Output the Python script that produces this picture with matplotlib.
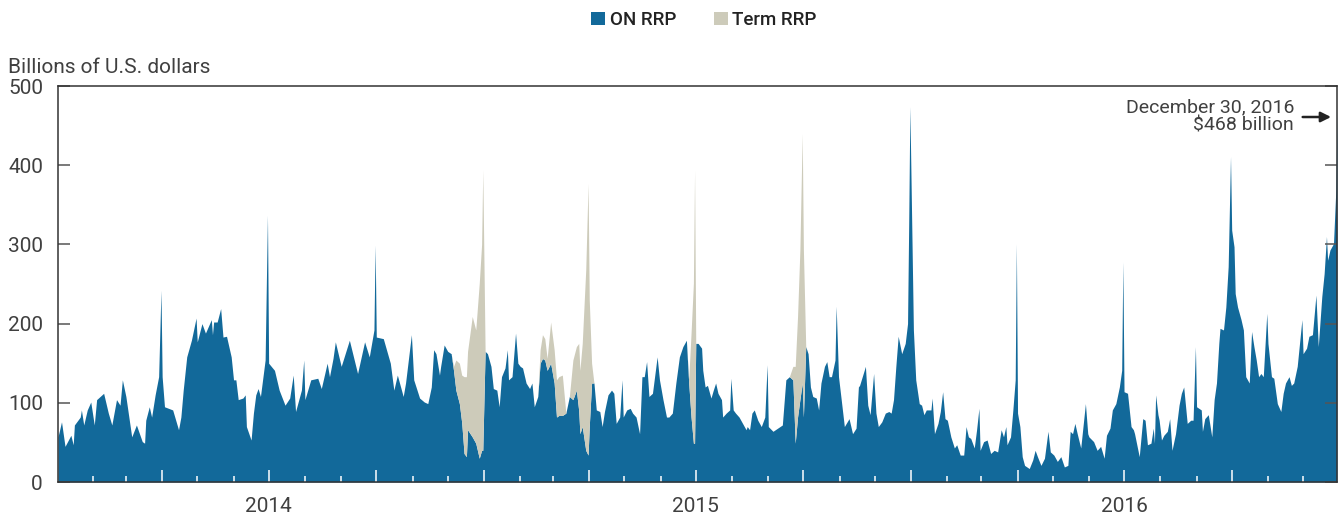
import matplotlib
matplotlib.use("Agg")
import matplotlib.pyplot as plt
import matplotlib.dates as mdates
from matplotlib.patches import Patch
import pandas as pd
import numpy as np

plt.rcParams['font.family'] = ['Roboto', 'DejaVu Sans']

# Daily readings taken off the chart (billions of U.S. dollars)
dates = [
    "2014-01-02", "2014-01-05", "2014-01-08", "2014-01-13", "2014-01-15", "2014-01-16", "2014-01-21", "2014-01-22", "2014-01-24", "2014-01-27", "2014-01-30",
    "2014-02-02", "2014-02-04", "2014-02-10", "2014-02-14", "2014-02-17", "2014-02-21", "2014-02-24", "2014-02-26",
    "2014-03-01", "2014-03-06", "2014-03-10", "2014-03-15", "2014-03-17", "2014-03-18", "2014-03-21", "2014-03-23", "2014-03-26", "2014-03-29", "2014-03-31",
    "2014-04-01", "2014-04-03", "2014-04-10", "2014-04-15", "2014-04-17", "2014-04-19", "2014-04-22", "2014-04-26", "2014-04-30",
    "2014-05-01", "2014-05-05", "2014-05-08", "2014-05-13", "2014-05-14", "2014-05-15", "2014-05-18", "2014-05-21", "2014-05-23", "2014-05-26", "2014-05-30",
    "2014-06-01", "2014-06-03", "2014-06-05", "2014-06-09", "2014-06-11", "2014-06-12", "2014-06-16", "2014-06-18", "2014-06-20", "2014-06-22", "2014-06-24", "2014-06-28", "2014-06-30",
    "2014-07-01", "2014-07-06", "2014-07-10", "2014-07-15", "2014-07-19", "2014-07-22", "2014-07-24", "2014-07-29", "2014-07-31",
    "2014-08-01", "2014-08-06", "2014-08-12", "2014-08-15", "2014-08-20", "2014-08-22", "2014-08-25", "2014-08-27",
    "2014-09-01", "2014-09-08", "2014-09-15", "2014-09-21", "2014-09-25", "2014-09-29", "2014-09-30",
    "2014-10-01", "2014-10-07", "2014-10-13", "2014-10-16", "2014-10-19", "2014-10-24", "2014-10-26", "2014-10-31",
    "2014-11-02", "2014-11-07", "2014-11-11", "2014-11-14", "2014-11-17", "2014-11-19", "2014-11-21", "2014-11-24", "2014-11-25", "2014-11-28",
    "2014-12-01", "2014-12-04", "2014-12-06", "2014-12-08", "2014-12-11", "2014-12-13", "2014-12-15", "2014-12-17", "2014-12-18", "2014-12-22", "2014-12-25", "2014-12-28", "2014-12-30", "2014-12-31",
    "2015-01-02", "2015-01-04", "2015-01-07", "2015-01-09", "2015-01-12", "2015-01-14", "2015-01-16", "2015-01-19", "2015-01-21", "2015-01-22", "2015-01-25", "2015-01-28", "2015-01-30",
    "2015-02-01", "2015-02-03", "2015-02-06", "2015-02-09", "2015-02-11", "2015-02-13", "2015-02-16", "2015-02-18", "2015-02-20", "2015-02-22", "2015-02-24", "2015-02-27",
    "2015-03-02", "2015-03-04", "2015-03-06", "2015-03-09", "2015-03-12", "2015-03-15", "2015-03-18", "2015-03-21", "2015-03-23", "2015-03-24", "2015-03-26", "2015-03-29", "2015-03-31",
    "2015-04-01", "2015-04-03", "2015-04-05", "2015-04-07", "2015-04-10", "2015-04-12", "2015-04-14", "2015-04-17", "2015-04-20", "2015-04-22", "2015-04-24", "2015-04-27", "2015-04-29", "2015-04-30",
    "2015-05-03", "2015-05-06", "2015-05-08", "2015-05-11", "2015-05-14", "2015-05-16", "2015-05-18", "2015-05-20", "2015-05-22", "2015-05-25", "2015-05-29", "2015-05-31",
    "2015-06-03", "2015-06-06", "2015-06-08", "2015-06-11", "2015-06-14", "2015-06-17", "2015-06-20", "2015-06-23", "2015-06-25", "2015-06-27", "2015-06-29", "2015-06-30",
    "2015-07-01", "2015-07-03", "2015-07-06", "2015-07-07", "2015-07-09", "2015-07-11", "2015-07-14", "2015-07-16", "2015-07-18", "2015-07-20", "2015-07-23", "2015-07-24", "2015-07-27", "2015-07-30", "2015-07-31",
    "2015-08-02", "2015-08-04", "2015-08-07", "2015-08-10", "2015-08-13", "2015-08-14", "2015-08-16", "2015-08-18", "2015-08-20", "2015-08-23", "2015-08-26", "2015-08-29", "2015-08-31",
    "2015-09-01", "2015-09-05", "2015-09-09", "2015-09-13", "2015-09-16", "2015-09-19", "2015-09-22", "2015-09-24", "2015-09-26", "2015-09-28", "2015-09-30",
    "2015-10-01", "2015-10-03", "2015-10-05", "2015-10-07", "2015-10-09", "2015-10-12", "2015-10-14", "2015-10-16", "2015-10-19", "2015-10-21", "2015-10-23", "2015-10-25", "2015-10-28", "2015-10-29", "2015-10-31",
    "2015-11-02", "2015-11-05", "2015-11-09", "2015-11-12", "2015-11-15", "2015-11-17", "2015-11-18", "2015-11-23", "2015-11-25", "2015-11-27", "2015-11-30",
    "2015-12-02", "2015-12-04", "2015-12-07", "2015-12-10", "2015-12-13", "2015-12-15", "2015-12-17", "2015-12-19", "2015-12-21", "2015-12-24", "2015-12-27", "2015-12-29", "2015-12-30", "2015-12-31",
    "2016-01-03", "2016-01-05", "2016-01-08", "2016-01-10", "2016-01-12", "2016-01-14", "2016-01-18", "2016-01-19", "2016-01-21", "2016-01-24", "2016-01-26", "2016-01-28", "2016-01-30",
    "2016-02-01", "2016-02-04", "2016-02-07", "2016-02-09", "2016-02-12", "2016-02-15", "2016-02-17", "2016-02-19", "2016-02-21", "2016-02-24", "2016-02-26", "2016-02-28", "2016-02-29",
    "2016-03-03", "2016-03-06", "2016-03-09", "2016-03-12", "2016-03-15", "2016-03-18", "2016-03-20", "2016-03-22", "2016-03-23", "2016-03-26", "2016-03-28", "2016-03-30", "2016-03-31",
    "2016-04-01", "2016-04-03", "2016-04-05", "2016-04-07", "2016-04-11", "2016-04-14", "2016-04-16", "2016-04-18", "2016-04-21", "2016-04-24", "2016-04-27", "2016-04-29",
    "2016-05-02", "2016-05-05", "2016-05-08", "2016-05-11", "2016-05-14", "2016-05-16", "2016-05-18", "2016-05-20", "2016-05-22", "2016-05-25", "2016-05-29", "2016-05-31",
    "2016-06-01", "2016-06-05", "2016-06-08", "2016-06-11", "2016-06-14", "2016-06-16", "2016-06-19", "2016-06-21", "2016-06-24", "2016-06-27", "2016-06-29", "2016-06-30",
    "2016-07-01", "2016-07-04", "2016-07-07", "2016-07-09", "2016-07-10", "2016-07-14", "2016-07-17", "2016-07-19", "2016-07-21", "2016-07-24", "2016-07-26", "2016-07-27", "2016-07-28", "2016-07-30", "2016-07-31",
    "2016-08-02", "2016-08-04", "2016-08-07", "2016-08-09", "2016-08-11", "2016-08-14", "2016-08-17", "2016-08-19", "2016-08-21", "2016-08-24", "2016-08-27", "2016-08-29", "2016-08-31",
    "2016-09-01", "2016-09-03", "2016-09-05", "2016-09-06", "2016-09-08", "2016-09-11", "2016-09-14", "2016-09-16", "2016-09-18", "2016-09-20", "2016-09-21", "2016-09-24", "2016-09-26", "2016-09-28", "2016-09-30",
    "2016-10-01", "2016-10-03", "2016-10-04", "2016-10-06", "2016-10-09", "2016-10-11", "2016-10-13", "2016-10-16", "2016-10-18", "2016-10-20", "2016-10-22", "2016-10-24", "2016-10-26", "2016-10-28", "2016-10-31",
    "2016-11-01", "2016-11-04", "2016-11-06", "2016-11-09", "2016-11-12", "2016-11-14", "2016-11-16", "2016-11-19", "2016-11-21", "2016-11-23", "2016-11-26", "2016-11-30",
    "2016-12-01", "2016-12-04", "2016-12-06", "2016-12-09", "2016-12-12", "2016-12-14", "2016-12-17", "2016-12-19", "2016-12-21", "2016-12-22", "2016-12-24", "2016-12-27", "2016-12-29", "2016-12-30",
]

on_rrp = [
    57, 76, 45, 59, 47, 72, 82, 91, 72, 91, 101,
    72, 104, 112, 87, 72, 104, 97, 129,
    108, 57, 72, 51, 49, 78, 95, 82, 110, 133, 242,
    133, 95, 91, 66, 82, 116, 158, 179, 207,
    177, 200, 188, 205, 186, 202, 202, 219, 183, 184, 158,
    129, 129, 104, 106, 110, 70, 53, 87, 110, 118, 108, 154, 337,
    150, 141, 116, 97, 106, 135, 89, 116, 154,
    104, 129, 131, 118, 150, 133, 156, 177,
    146, 179, 137, 177, 158, 192, 299,
    183, 181, 150, 116, 135, 108, 125, 186,
    129, 106, 101, 99, 120, 167, 162, 135, 146, 173,
    165, 162, 141, 116, 99, 75, 36, 32, 66, 57, 49, 30, 40, 40,
    165, 162, 146, 118, 116, 95, 133, 144, 167, 129, 133, 188, 150,
    146, 144, 125, 118, 125, 95, 108, 150, 156, 154, 141, 150,
    125, 82, 84, 84, 87, 108, 104, 116, 90, 61, 70, 40, 34,
    70, 125, 125, 91, 89, 70, 89, 110, 116, 112, 74, 82, 129, 82,
    91, 93, 87, 82, 61, 133, 133, 152, 108, 112, 158, 129,
    104, 82, 82, 87, 125, 158, 171, 179, 125, 82, 49, 49,
    175, 175, 169, 141, 120, 122, 106, 116, 125, 112, 104, 82, 87, 91, 131,
    91, 87, 82, 74, 66, 70, 66, 87, 91, 78, 70, 82, 148,
    70, 64, 68, 72, 129, 133, 129, 49, 82, 104, 125,
    82, 171, 162, 120, 108, 106, 91, 125, 146, 152, 133, 133, 154, 222, 133,
    108, 70, 80, 61, 68, 120, 122, 146, 97, 85, 137,
    87, 70, 76, 87, 89, 87, 104, 146, 184, 162, 175, 200, 327, 474,
    192, 129, 99, 97, 85, 91, 91, 106, 61, 74, 89, 114, 80,
    78, 57, 43, 47, 34, 34, 70, 57, 55, 43, 66, 93, 40,
    51, 53, 36, 40, 38, 66, 57, 70, 47, 57, 91, 129, 301,
    87, 70, 32, 21, 17, 28, 40, 32, 21, 30, 64, 38,
    34, 26, 32, 19, 21, 64, 61, 74, 61, 43, 99, 61,
    57, 51, 40, 45, 30, 59, 68, 91, 99, 120, 141, 278,
    114, 112, 70, 66, 61, 32, 80, 78, 47, 49, 68, 49, 110, 85, 78,
    53, 59, 64, 80, 40, 61, 97, 112, 120, 74, 78, 78, 171,
    95, 93, 91, 64, 80, 85, 57, 104, 125, 175, 194, 192, 221, 272, 411,
    318, 297, 238, 221, 205, 192, 133, 125, 190, 171, 154, 133, 137, 133, 213,
    175, 133, 131, 99, 89, 112, 125, 133, 122, 125, 146, 205,
    162, 169, 184, 186, 236, 171, 234, 263, 310, 280, 293, 301, 369, 468,
]

# Term RRP is only outstanding around some quarter ends; zero elsewhere
term_dates = [
    "2014-12-06", "2014-12-08", "2014-12-11", "2014-12-13", "2014-12-15", "2014-12-17", "2014-12-18", "2014-12-22", "2014-12-25", "2014-12-28", "2014-12-30", "2014-12-31",
    "2015-02-18", "2015-02-20", "2015-02-22", "2015-02-24", "2015-02-27", "2015-03-02", "2015-03-04", "2015-03-06", "2015-03-09",
    "2015-03-18", "2015-03-21", "2015-03-23", "2015-03-24", "2015-03-26", "2015-03-29", "2015-03-31", "2015-04-01", "2015-04-03",
    "2015-06-25", "2015-06-27", "2015-06-29", "2015-06-30",
    "2015-09-22", "2015-09-24", "2015-09-26", "2015-09-28", "2015-09-30", "2015-10-01",
]
term_rrp = [
    5, 38, 51, 60, 97, 101, 99, 152, 143, 221, 260, 354,
    17, 30, 27, 15, 52, 42, 47, 49, 51,
    50, 55, 85, 80, 105, 228, 343, 160, 25,
    5, 106, 202, 345,
    17, 97, 127, 189, 315, 211,
]

BLUE = "#12699a"
BEIGE = "#cdcbba"
TXT = "#404040"

x = pd.to_datetime(dates)
on = np.array(on_rrp, dtype=float)
term_lookup = dict(zip(term_dates, term_rrp))
term = np.array([term_lookup.get(d, 0) for d in dates], dtype=float)

fig = plt.figure(figsize=(13.38, 5.15), dpi=100)
ax = fig.add_axes([58 / 1338, 1 - 482 / 515, 1279 / 1338, 396 / 515])

ax.fill_between(x, 0, on, color=BLUE, lw=0)
ax.fill_between(x, on, on + term, color=BEIGE, lw=0)

ax.set_xlim(x[0], x[-1])
ax.set_ylim(0, 500)
ax.set_yticks(range(0, 501, 100))

# quarter ticks long, month ticks short; year label under July
ax.xaxis.set_major_locator(mdates.MonthLocator(bymonth=[1, 4, 7, 10]))
ax.xaxis.set_minor_locator(mdates.MonthLocator())
ax.xaxis.set_major_formatter(
    plt.FuncFormatter(lambda v, p: mdates.num2date(v).strftime("%Y") if mdates.num2date(v).month == 7 else ""))

ax.tick_params(axis="x", which="major", direction="in", length=8.6, width=1.1,
               color="white", pad=10.5, labelsize=15, labelcolor=TXT)
ax.tick_params(axis="x", which="minor", direction="in", length=4.3, width=1.1, color="white")
ax.tick_params(axis="y", direction="in", length=8.6, width=1.1, color="#555555",
               left=True, right=True, pad=10.8, labelsize=15, labelcolor=TXT)

for s in ax.spines.values():
    s.set_color("#333333")
    s.set_linewidth(1.1)

fig.text(8 / 1338, 1 - 72.7 / 515, "Billions of U.S. dollars", fontsize=15,
         color=TXT, va="baseline", ha="left")

handles = [Patch(facecolor=BLUE, edgecolor="none"), Patch(facecolor=BEIGE, edgecolor="none")]
fig.legend(handles, ["ON RRP", "Term RRP"], loc="center", bbox_to_anchor=(0.526, 1 - 20 / 515),
           ncol=2, frameon=False, handlelength=0.75, handleheight=0.75, handletextpad=0.25,
           columnspacing=2.0, prop=dict(size=13.5, weight="medium"), labelcolor="#222222")

ax.text(0.9664, 0.923, "December 30, 2016\n$468 billion", transform=ax.transAxes,
        ha="right", va="center", fontsize=14, color=TXT, linespacing=1.0)
ax.annotate("", xy=(0.9975, 0.9217), xytext=(0.971, 0.9217), xycoords="axes fraction",
            arrowprops=dict(arrowstyle="-|>", color="#222222", lw=1.8, mutation_scale=15))

fig.savefig("out.png", dpi=100)
